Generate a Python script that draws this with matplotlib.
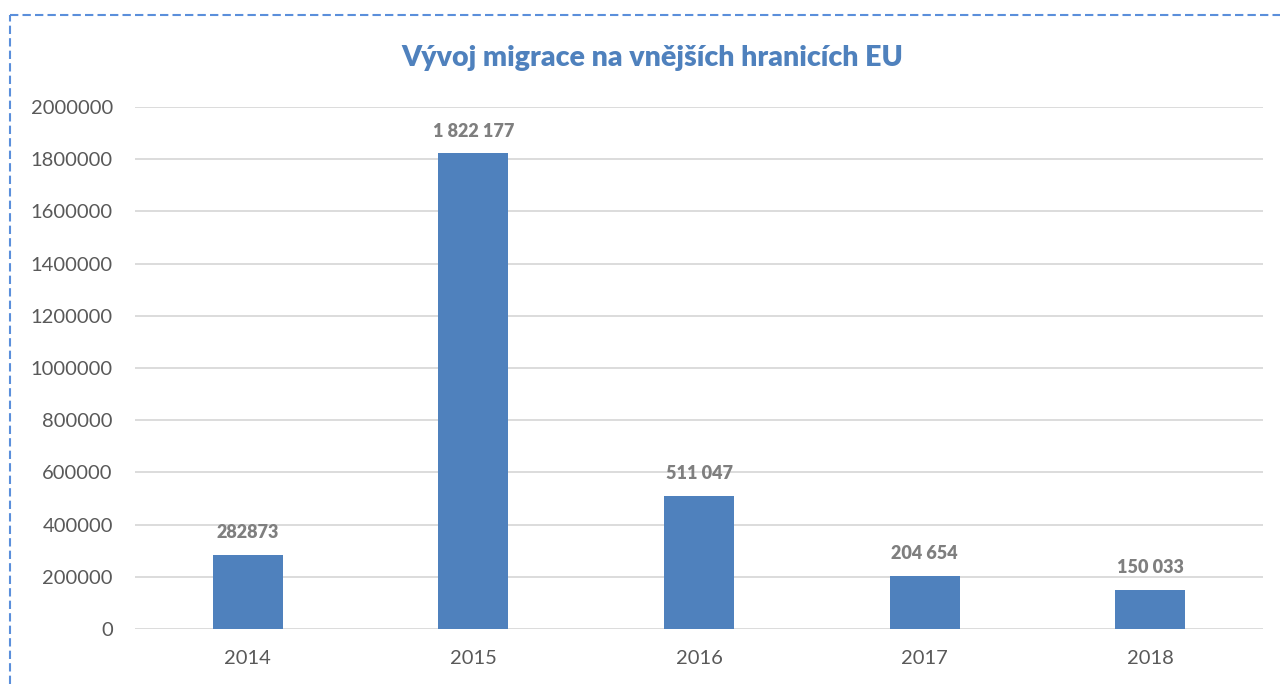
import matplotlib
matplotlib.use("Agg")
import matplotlib.pyplot as plt
from matplotlib.lines import Line2D

years = ["2014", "2015", "2016", "2017", "2018"]
migrants = [282873, 1822177, 511047, 204654, 150033]
value_labels = ["282873", "1 822 177", "511 047", "204 654", "150 033"]
yticks = [0, 200000, 400000, 600000, 800000, 1000000, 1200000, 1400000, 1600000, 1800000, 2000000]

plt.rcParams['font.family'] = ['Lato', 'DejaVu Sans']

fig = plt.figure(figsize=(12.8, 6.84), dpi=100)
ax = fig.add_axes([135 / 1280, 1 - 629 / 684, (1263 - 135) / 1280, (629 - 107) / 684])

x = range(len(years))
ax.bar(x, migrants, width=0.31, color="#4F81BD", zorder=3)

ax.set_xlim(-0.5, len(years) - 0.5)
ax.set_ylim(0, 2000000)
ax.set_yticks(yticks)
ax.set_yticklabels([str(t) for t in yticks])
ax.set_xticks(list(x))
ax.set_xticklabels(years)
ax.grid(axis="y", color="#D9D9D9", linewidth=1.3, zorder=0)
for s in ax.spines.values():
    s.set_visible(False)
ax.tick_params(length=0, labelsize=14.5, colors="#595959")
ax.tick_params(axis="y", pad=16)
ax.tick_params(axis="x", pad=15)

for i, (v, lab) in enumerate(zip(migrants, value_labels)):
    ax.annotate(lab, (i, v), xytext=(0, 10), textcoords="offset points",
                ha="center", va="bottom", fontsize=13, fontweight="heavy", color="#7F7F7F")

fig.text(652 / 1280, 1 - 58 / 684, "Vývoj migrace na vnějších hranicích EU", ha="center", va="center",
         fontsize=20.5, fontweight="heavy", color="#4F81BD")

# dashed frame (only top and left edges visible)
bc = "#5B8FDB"
fig.add_artist(Line2D([10 / 1280, 10 / 1280], [0, 1 - 15 / 684], color=bc, lw=1.5, ls=(0, (4, 2))))
fig.add_artist(Line2D([10 / 1280, 1], [1 - 15 / 684, 1 - 15 / 684], color=bc, lw=1.5, ls=(0, (4, 2))))

fig.savefig("out.png", dpi=100)
